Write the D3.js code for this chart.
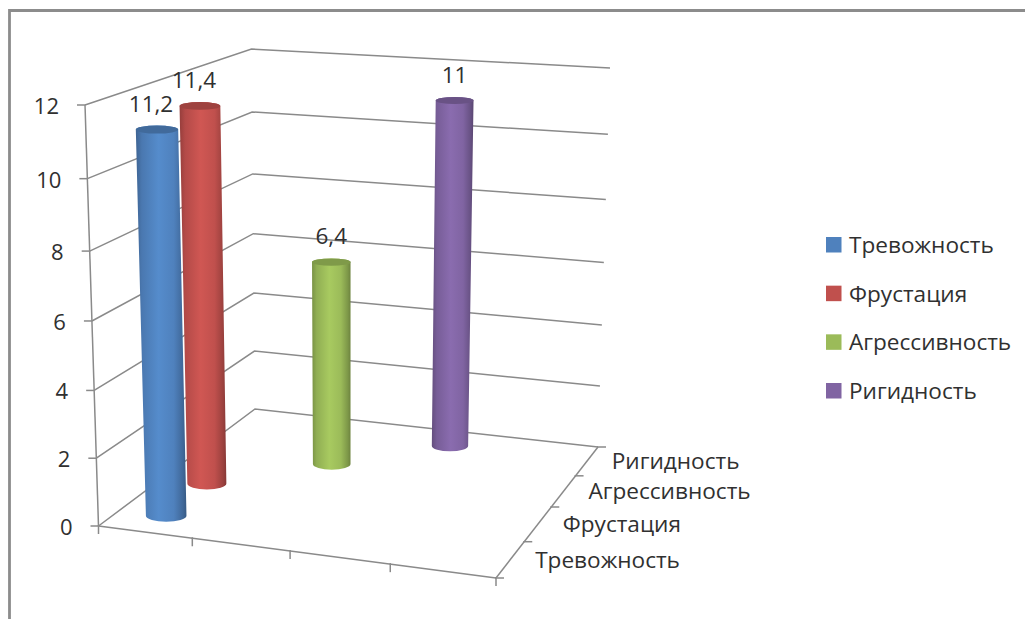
<!DOCTYPE html>
<html>
<head>
<meta charset="utf-8">
<script src="https://cdn.jsdelivr.net/npm/d3@7"></script>
<style>
  html, body { margin: 0; padding: 0; background: #fff; }
  svg { display: block; }
  text { font-family: "Open Sans", "Noto Sans", sans-serif; fill: #303030; }
</style>
</head>
<body>
<svg id="chart" width="1025" height="619"></svg>
<script>
// Chart data
const seriesNames = ["Тревожность", "Фрустация", "Агрессивность", "Ригидность"];
const seriesValues = [11.2, 11.4, 6.4, 11];
const valueLabels = ["11,2", "11,4", "6,4", "11"];
const seriesSlots = [0, 0, 1, 2];
const valueTicks = [0, 2, 4, 6, 8, 10, 12];
const slotTicks = [0, 1, 2, 3, 4];
const seriesColors = ["#4f81bd", "#c0504d", "#9bbb59", "#8064a2"];

const svg = d3.select("#chart");
const W = 1025, H = 619;

// Box corners on screen: floor and ceiling, each [front-left, front-right, back-left, back-right]
const floorBox = [[98.5, 526], [496, 578], [255, 409], [598, 447]];
const ceilBox = [[85, 105], [502, 134], [251.5, 49], [610, 68]];

// Axis scales are piecewise so that spacing shrinks with distance
const valueScale = d3.scaleLinear().domain(valueTicks).range([0, .161, .322, .487, .653, .825, 1]);
const slotScale = d3.scaleLinear().domain(slotTicks).range([0, .236, .482, .734, 1]);
const depthScale = d3.scaleLinear().domain(slotTicks).range([0, .277, .542, .78, 1]);

const lerp = (a, b, t) => a + (b - a) * t;
const lerpPt = (a, b, t) => [lerp(a[0], b[0], t), lerp(a[1], b[1], t)];
function bilinear(box, u, v) {
  return lerpPt(lerpPt(box[0], box[1], u), lerpPt(box[2], box[3], u), v);
}
// u: along the front edge, v: into the depth, t: up the value axis (all 0..1)
function project(u, v, t) {
  return lerpPt(bilinear(floorBox, u, v), bilinear(ceilBox, u, v), t);
}

// Outer frame: left and top sides only
svg.append("path")
  .attr("d", d3.line()([[9.5, H], [9.5, 10.5], [W, 10.5]]))
  .attr("fill", "none").attr("stroke", "#8c8c8c").attr("stroke-width", 2.8);

const axisColor = "#8a8a8a";
const grid = svg.append("g").attr("fill", "none").attr("stroke", axisColor).attr("stroke-width", 1.5);

// Gridlines running along the side wall and the back wall
grid.selectAll("path.gridline").data(valueTicks).join("path")
  .attr("class", "gridline")
  .attr("d", d => {
    const t = valueScale(d);
    return d3.line()([project(0, 0, t), project(0, 1, t), project(1, 1, t)]);
  });

// Value axis with its ticks
grid.append("path").attr("d", d3.line()([project(0, 0, 0), project(0, 0, 1)]));
grid.selectAll("path.vtick").data(valueTicks).join("path")
  .attr("class", "vtick")
  .attr("d", d => {
    const p = project(0, 0, valueScale(d));
    return d3.line()([[p[0] - 8, p[1]], p]);
  });

// Front floor edge with ticks pointing down
grid.append("path").attr("d", d3.line()([project(0, 0, 0), project(1, 0, 0)]));
grid.selectAll("path.xtick").data(slotTicks).join("path")
  .attr("class", "xtick")
  .attr("d", d => {
    const p = project(slotScale(d), 0, 0);
    return d3.line()([[p[0], p[1] - 1], [p[0], p[1] + 8]]);
  });

// Depth edge with ticks pointing right
grid.append("path").attr("d", d3.line()([project(1, 0, 0), project(1, 1, 0)]));
grid.selectAll("path.ztick").data(slotTicks).join("path")
  .attr("class", "ztick")
  .attr("d", d => {
    const p = project(1, depthScale(d), 0);
    return d3.line()([[p[0] - 1, p[1]], [p[0] + 8, p[1]]]);
  });

// Value labels
svg.append("g").selectAll("text").data(valueTicks).join("text")
  .attr("x", d => project(0, 0, valueScale(d))[0] - 26)
  .attr("y", d => project(0, 0, valueScale(d))[1] + 9)
  .attr("text-anchor", "end").attr("font-size", 22).text(d => d);

// Depth labels
svg.append("g").selectAll("text").data(seriesNames).join("text")
  .attr("x", (d, i) => project(1, depthScale(i + .5), 0)[0] + 25)
  .attr("y", (d, i) => project(1, depthScale(i + .5), 0)[1] + 8)
  .attr("font-size", 22.6).text(d => d);

// Cylinder shading
const defs = svg.append("defs");
seriesColors.forEach((c, i) => {
  const g = defs.append("linearGradient").attr("id", "side" + i);
  const base = d3.color(c);
  [[0, base.darker(.7)], [.12, base.darker(.2)], [.45, base.brighter(.22)], [.75, base], [.93, base.darker(.6)], [1, base.darker(1)]]
    .forEach(([o, col]) => g.append("stop").attr("offset", o).attr("stop-color", col));
});

// Half-width of a cylinder in floor units, and its ellipse flatness
const barHalf = 0.052;
const flatTop = 0.19, flatBottom = 0.3;

const bars = svg.append("g");
seriesValues.forEach((value, i) => {
  const u = slotScale(seriesSlots[i] + .5);
  const v = depthScale(i + .5);
  const t = valueScale(value);
  const bl = project(u - barHalf, v, 0), br = project(u + barHalf, v, 0);
  const tl = project(u - barHalf, v, t), tr = project(u + barHalf, v, t);
  const rb = (br[0] - bl[0]) / 2, rt = (tr[0] - tl[0]) / 2;
  const ryb = rb * flatBottom, ryt = rt * flatTop;
  const yb = (bl[1] + br[1]) / 2, yt = (tl[1] + tr[1]) / 2;

  bars.append("path")
    .attr("d", `M${tl[0]},${yt} L${bl[0]},${yb} A${rb},${ryb} 0 0 0 ${br[0]},${yb} L${tr[0]},${yt} A${rt},${ryt} 0 0 0 ${tl[0]},${yt} Z`)
    .attr("fill", `url(#side${i})`);
  bars.append("ellipse")
    .attr("cx", (tl[0] + tr[0]) / 2).attr("cy", yt)
    .attr("rx", rt).attr("ry", ryt)
    .attr("fill", d3.color(seriesColors[i]).darker(.55));

  const shift = i < 2 ? -6 : 0;
  svg.append("text")
    .attr("x", (tl[0] + tr[0]) / 2 + shift).attr("y", yt - 18)
    .attr("text-anchor", "middle").attr("font-size", 22.5).text(valueLabels[i]);
});

// Legend
const legendY = d3.scalePoint().domain(seriesNames).range([245, 391]);
const legend = svg.append("g").selectAll("g").data(seriesNames).join("g")
  .attr("transform", d => `translate(826,${legendY(d)})`);
legend.append("rect").attr("y", -8).attr("width", 15.5).attr("height", 15.5)
  .attr("fill", (d, i) => seriesColors[i]);
legend.append("text").attr("x", 23).attr("y", 8).attr("font-size", 22.6).text(d => d);
</script>
</body>
</html>
